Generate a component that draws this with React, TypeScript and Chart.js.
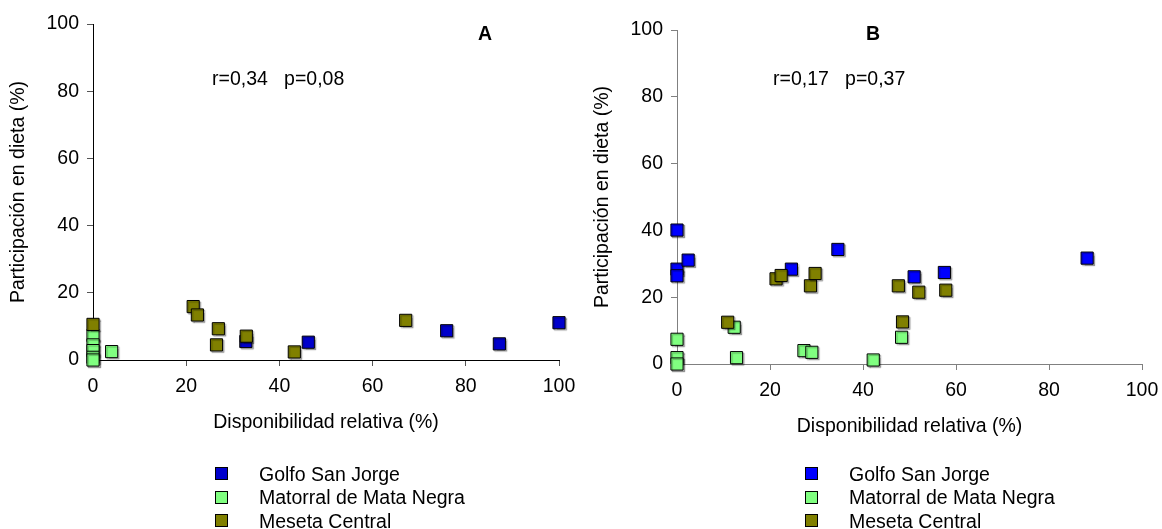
import React, { useEffect, useRef } from 'react';
import { Chart, registerables } from 'chart.js';

Chart.register(...registerables);

const FONT = "'Liberation Sans', Arial, Helvetica, sans-serif";
const FS = 19.5;

const seriesNames = ['Golfo San Jorge', 'Matorral de Mata Negra', 'Meseta Central'];
const axisTicks = [0, 20, 40, 60, 80, 100];
const xTitle = 'Disponibilidad relativa (%)';
const yTitle = 'Participación en dieta (%)';

// Panel A
const golfoAx = [32.8, 46.2, 75.9, 87.2, 100];
const golfoAy = [5.5, 5.3, 8.7, 4.8, 11.1];
const matorralAx = [0, 0, 0, 0, 0, 4.0];
const matorralAy = [7.3, 4.5, 2.8, 0.8, 0, 2.5];
const mesetaAx = [0, 21.5, 22.4, 26.9, 26.5, 32.9, 43.2, 67.1];
const mesetaAy = [10.6, 15.9, 13.4, 9.3, 4.5, 7.1, 2.4, 11.8];

// Panel B
const golfoBx = [0, 0, 0, 2.4, 24.6, 34.6, 51.0, 57.5, 88.2];
const golfoBy = [40.1, 28.4, 26.4, 31.1, 28.4, 34.3, 26.1, 27.4, 31.7];
const matorralBx = [0, 0, 0, 12.3, 12.8, 27.3, 29.0, 42.2, 48.3];
const matorralBy = [7.4, 1.9, 0, 11.0, 1.9, 4.0, 3.5, 1.2, 8.0];
const mesetaBx = [10.9, 21.3, 22.4, 28.7, 29.7, 47.6, 52.0, 57.8, 48.5];
const mesetaBy = [12.5, 25.5, 26.5, 23.4, 27.1, 23.4, 21.5, 22.1, 12.6];

const toPts = (xs: number[], ys: number[]) => xs.map((x, i) => ({ x, y: ys[i] }));

type PanelCfg = {
  letter: string;
  stat: string;
  series: [number[], number[]][];
  colors: string[];
  axisColor: string;
  tickColor: string;
  pad: { left: number; top: number; right: number; bottom: number };
  yWidth: number;
  xHeight: number;
  yTitlePad: number;
  statPos: [number, number];
  letterPos: [number, number];
};

const panelA: PanelCfg = {
  letter: 'A',
  stat: 'r=0,34   p=0,08',
  series: [[golfoAx, golfoAy], [matorralAx, matorralAy], [mesetaAx, mesetaAy]],
  colors: ['#0000CC', '#80FF80', '#808000'],
  axisColor: '#000000',
  tickColor: '#555555',
  pad: { left: 0, top: 24, right: 22, bottom: 95 },
  yWidth: 93,
  xHeight: 74,
  yTitlePad: 7,
  statPos: [119, 56],
  letterPos: [385, 11],
};

const panelB: PanelCfg = {
  letter: 'B',
  stat: 'r=0,17   p=0,37',
  series: [[golfoBx, golfoBy], [matorralBx, matorralBy], [mesetaBx, mesetaBy]],
  colors: ['#0000FF', '#80FF80', '#808000'],
  axisColor: '#808080',
  tickColor: '#808080',
  pad: { left: 0, top: 30, right: 20, bottom: 91 },
  yWidth: 96,
  xHeight: 74,
  yTitlePad: 10,
  statPos: [96, 50],
  letterPos: [189, 5],
};

const orders = [2, 1, 0];

function Panel({ cfg, left }: { cfg: PanelCfg; left: number }) {
  const ref = useRef<HTMLCanvasElement | null>(null);
  useEffect(() => {
    if (!ref.current) return;
    const textPlugin = {
      id: 'panelText' + cfg.letter,
      beforeDatasetsDraw(chart: any) {
        const ctx = chart.ctx;
        ctx.save();
        ctx.shadowColor = 'rgba(0,0,0,0.28)';
        ctx.shadowOffsetX = 1.5;
        ctx.shadowOffsetY = 1.5;
        ctx.shadowBlur = 1;
      },
      afterDatasetsDraw(chart: any) {
        chart.ctx.restore();
      },
      afterDraw(chart: any) {
        const ctx = chart.ctx;
        const a = chart.chartArea;
        ctx.save();
        ctx.fillStyle = '#000';
        ctx.textBaseline = 'middle';
        ctx.textAlign = 'left';
        ctx.font = `${FS}px ${FONT}`;
        ctx.fillText(cfg.stat, a.left + cfg.statPos[0], a.top + cfg.statPos[1]);
        ctx.font = `bold ${FS}px ${FONT}`;
        ctx.fillText(cfg.letter, a.left + cfg.letterPos[0], a.top + cfg.letterPos[1]);
        ctx.restore();
      },
    };
    const chart = new Chart(ref.current, {
      type: 'scatter',
      data: {
        datasets: cfg.series.map((s, i) => ({
          label: seriesNames[i],
          data: toPts(s[0], s[1]),
          backgroundColor: cfg.colors[i],
          borderColor: '#000000',
          borderWidth: 1,
          pointStyle: 'rect',
          pointRadius: 8.6,
          pointHoverRadius: 8.6,
          clip: false,
          order: orders[i],
        })),
      },
      options: {
        responsive: false,
        animation: false,
        events: [],
        layout: { padding: cfg.pad },
        plugins: { legend: { display: false }, tooltip: { enabled: false } },
        scales: {
          x: {
            type: 'linear',
            min: 0,
            max: 100,
            afterBuildTicks: (s: any) => {
              s.ticks = axisTicks.map((v) => ({ value: v }));
            },
            afterFit: (s: any) => {
              s.height = cfg.xHeight;
              s.paddingLeft = 0;
              s.paddingRight = 0;
            },
            grid: {
              drawOnChartArea: false,
              drawTicks: true,
              tickLength: 6,
              color: cfg.tickColor,
            },
            border: { display: true, color: cfg.axisColor, width: 1 },
            ticks: { color: '#000', padding: 9, font: { family: FONT, size: FS } },
            title: {
              display: true,
              text: xTitle,
              color: '#000',
              font: { family: FONT, size: FS },
              padding: { top: 3, bottom: 0 },
            },
          },
          y: {
            type: 'linear',
            min: 0,
            max: 100,
            afterBuildTicks: (s: any) => {
              s.ticks = axisTicks.map((v) => ({ value: v }));
            },
            afterFit: (s: any) => {
              s.width = cfg.yWidth;
              s.paddingTop = 0;
              s.paddingBottom = 0;
            },
            grid: {
              drawOnChartArea: false,
              drawTicks: true,
              tickLength: 6,
              color: cfg.tickColor,
            },
            border: { display: true, color: cfg.axisColor, width: 1 },
            ticks: { color: '#000', padding: 8, font: { family: FONT, size: FS } },
            title: {
              display: true,
              text: yTitle,
              color: '#000',
              font: { family: FONT, size: FS },
              padding: { top: cfg.yTitlePad, bottom: 0 },
            },
          },
        },
      },
      plugins: [textPlugin],
    } as any);
    return () => chart.destroy();
  }, [cfg]);
  return (
    <canvas
      ref={ref}
      width={581}
      height={529}
      style={{ position: 'absolute', left, top: 0, width: 581, height: 529 }}
    />
  );
}

function Legend({ cfg, left }: { cfg: PanelCfg; left: number }) {
  const rows = [473.5, 497, 520.5];
  return (
    <>
      {seriesNames.map((n, i) => (
        <React.Fragment key={n}>
          <div
            style={{
              position: 'absolute',
              left: left,
              top: rows[i] - 6.5,
              width: 11,
              height: 11,
              background: cfg.colors[i],
              border: '1px solid #000',
            }}
          />
          <div
            style={{
              position: 'absolute',
              left: left + 44,
              top: rows[i] - 12,
              height: 24,
              lineHeight: '24px',
              fontFamily: FONT,
              fontSize: FS,
              color: '#000',
              whiteSpace: 'nowrap',
            }}
          >
            {n}
          </div>
        </React.Fragment>
      ))}
    </>
  );
}

export default function App() {
  return (
    <div
      style={{
        position: 'absolute',
        left: 0,
        top: 0,
        width: 1162,
        height: 529,
        background: '#fff',
        overflow: 'hidden',
      }}
    >
      <Panel cfg={panelA} left={0} />
      <Panel cfg={panelB} left={581} />
      <Legend cfg={panelA} left={215} />
      <Legend cfg={panelB} left={805} />
    </div>
  );
}
